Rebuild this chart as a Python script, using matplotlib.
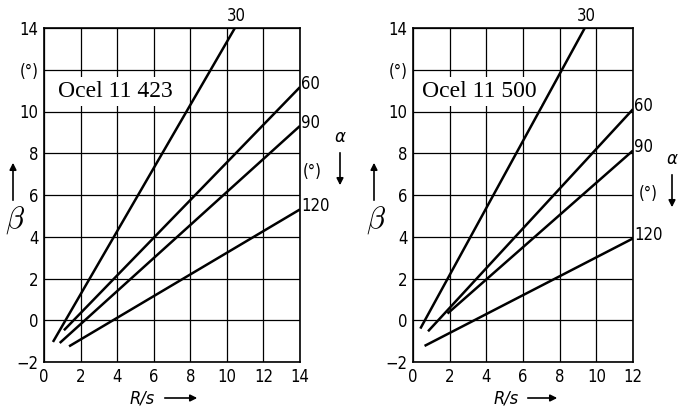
import numpy as np
import matplotlib.pyplot as plt

# hodnoty (R/s, beta) - zacatek a konec kazde primky
alfa = ['30', '60', '90', '120']

x1_start = [0.49, 1.09, 0.86, 1.37]
y1_start = [-1.04, -0.48, -1.09, -1.25]
x1_end = [10.44, 14.0, 14.0, 14.0]
y1_end = [14.0, 11.17, 9.31, 5.31]

x2_start = [0.40, 0.82, 1.88, 0.63]
y2_start = [-0.40, -0.53, 0.32, -1.23]
x2_end = [9.37, 12.0, 12.0, 12.0]
y2_end = [14.0, 10.11, 8.13, 3.92]

yticks = [-2, 0, 2, 4, 6, 8, 10, 12, 14]
ylabels = ['\u22122', '0', '2', '4', '6', '8', '10', '(\u00b0)', '14']

W, H = 678, 409
fig = plt.figure(figsize=(W/100, H/100), dpi=100)
fnt = dict(family='DejaVu Sans', fontstretch='condensed', fontsize=12)

def sipka(x0, y0, x1, y1):
	fig.add_artist(plt.Annotation('', xy=(x1/W, 1-y1/H), xytext=(x0/W, 1-y0/H), xycoords='figure fraction',
		arrowprops=dict(arrowstyle='-|>', color='k', lw=1.2, mutation_scale=10)))

def panel(rect, xmax, xs, ys, xe, ye, nazev, xt, xl):
	ax = fig.add_axes(rect)
	for i in range(len(alfa)):
		ax.plot([xs[i], xe[i]], [ys[i], ye[i]], c='k', lw=1.8, solid_capstyle='butt')
		if alfa[i] == '30':
			ax.text(xe[i]+0.1, ye[i]+0.15, alfa[i], va='bottom', ha='center', **fnt)
		else:
			ax.text(xe[i]+0.05, ye[i]+0.15, alfa[i], va='center', ha='left', **fnt)
	ax.set_xlim(0, xmax)
	ax.set_ylim(-2, 14)
	ax.set_xticks(np.arange(0, xmax+1, 2))
	ax.set_xticklabels([str(v) for v in range(0, xmax+1, 2)], **fnt)
	ax.set_yticks(yticks)
	ax.set_yticklabels(ylabels, **fnt)
	ax.tick_params(length=0, pad=4)
	ax.grid(True, c='k', lw=0.9)
	for s in ax.spines.values():
		s.set_linewidth(1.2)
	ax.text(xt, 10.95, nazev, family='Liberation Serif', fontsize=17, va='center', ha='left',
		bbox=dict(facecolor='white', edgecolor='none', pad=3))
	ax.text(xl, -3.75, 'R/s', style='italic', ha='right', va='center', clip_on=False,
		family='DejaVu Sans', fontstretch='condensed', fontsize=13)
	return ax

ax1 = panel([44/W, 47/H, 256/W, 334/H], 14, x1_start, y1_start, x1_end, y1_end, 'Ocel 11 423', 0.75, 6.05)
ax2 = panel([413/W, 47/H, 220/W, 334/H], 12, x2_start, y2_start, x2_end, y2_end, 'Ocel 11 500', 0.5, 5.75)

# sipky u R/s
sipka(162, 398, 200, 398)
sipka(525, 398, 560, 398)

# popisky os beta a alfa
for bx in [15, 376]:
	fig.text(bx/W, 1-220/H, r'$\beta$', fontsize=22, math_fontfamily='cm', ha='center', va='center')
	sipka(bx-2, 203, bx-2, 160)
for ax_, ox, ay in [(340, 312, 0), (672, 648, 22)]:
	fig.text(ax_/W, 1-(137+ay)/H, '\u03b1', fontsize=12, style='italic', ha='center', va='center')
	fig.text(ox/W, 1-(172+ay)/H, '(\u00b0)', ha='center', va='center', **fnt)
	sipka(ax_, 150+ay, ax_, 188+ay)

plt.savefig('out.png', dpi=100)
plt.close()
